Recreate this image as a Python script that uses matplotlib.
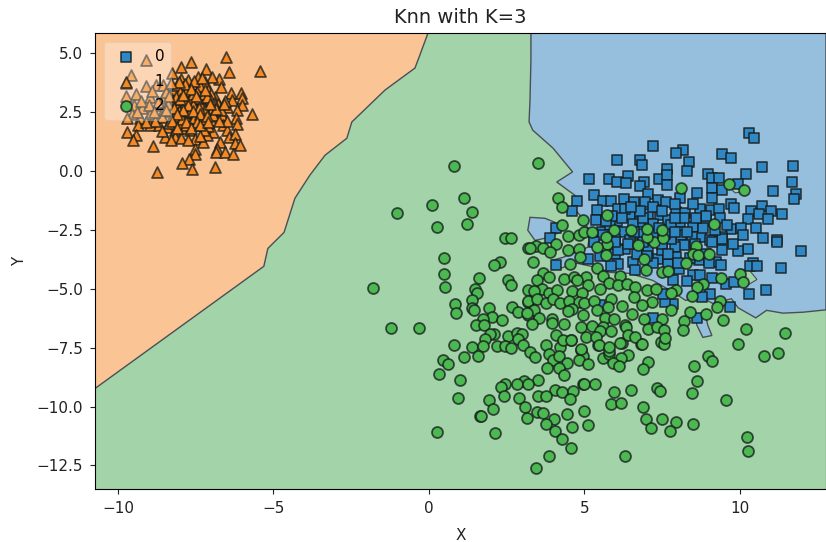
import numpy as np
import matplotlib
matplotlib.use('Agg')
import matplotlib.pyplot as plt

# decision boundaries
orange_edge = [(-0.03,5.87),(-0.29,4.94),(-0.45,4.38),(-1.41,3.45),(-2.48,2.09),(-2.64,1.4),(-3.34,0.68),
               (-3.83,-0.17),(-4.31,-1.15),(-4.66,-2.6),(-5.18,-3.28),(-5.31,-4.04),(-7.36,-6.0),(-10.74,-9.23)]
blue_edge = [(3.28,5.87),(3.28,4.72),(3.25,3.02),(3.22,2.09),(3.34,1.74),(3.99,0.98),(4.62,-0.03),(4.11,-0.46),
             (4.69,-1.02),(4.6,-1.49),(4.92,-1.96),(5.18,-2.6),(5.11,-3.23),(4.31,-3.66),(3.95,-3.79),(4.21,-4.13),
             (4.76,-3.91),(5.08,-4.0),(5.5,-4.13),(5.82,-4.3),(6.46,-4.34),(7.2,-4.64),(7.75,-5.06),(8.26,-5.49),
             (8.71,-5.32),(9.13,-5.62),(9.73,-5.42),(9.94,-5.8),(10.51,-6.23),(10.86,-5.91),(11.38,-6.03),
             (12.03,-5.99),(12.77,-5.89)]
blue_island1 = [(3.25,-1.96),(3.73,-2.0),(4.05,-2.17),(4.21,-2.6),(3.73,-2.85),(3.41,-2.94),(3.18,-2.51)]
blue_island2 = [(8.55,-6.13),(8.87,-6.0),(8.97,-6.55),(9.1,-6.98),(8.81,-7.06),(8.62,-6.55)]
green_patch1 = [(9.7,-0.75),(10.0,-0.68),(10.3,-0.85),(9.85,-0.92)]
green_patch2 = [(9.95,-4.15),(10.3,-4.2),(10.55,-4.6),(10.3,-4.8),(10.0,-4.7)]

class0 = [(7.21,1.06),(6.04,0.47),(6.78,0.47),(6.84,0.26),(5.14,-0.35),(5.8,-0.35),(6.41,-0.21),(6.04,-0.45),
          (6.33,-0.5),(6.91,-0.45),(6.78,-0.62),(7.4,-0.35),(7.66,0.11),(7.66,-0.17),(7.66,-0.6),(5.31,-1.02),
          (4.77,-1.26),(5.6,-1.26),(5.87,-1.26),(6.27,-1.2),(6.6,-1.31),(7.05,-0.98),(6.95,-1.31),(7.37,-1.23),
          (7.64,-1.31),(4.59,-1.69),(5.39,-1.66),(6.09,-1.59),(6.46,-1.91),(7.05,-1.8),(7.43,-1.87),(5.37,-2.06),
          (6.04,-2.13),(6.78,-2.16),(7.7,-2.09),(4.08,-2.4),(3.89,-2.82),(5.55,-2.58),(6.25,-2.58),(6.78,-2.65),
          (7.21,-2.72),(6.57,-2.23),(5.82,-2.3),(7.21,-2.23),
          (10.3,1.63),(10.46,1.42),(9.41,0.71),(9.7,0.57),(10.7,0.16),(11.71,0.21),(8.18,0.92),(7.93,0.77),
          (8.36,0.37),(8.29,0.0),(8.96,-0.1),(10.19,-0.1),(9.09,-0.27),(9.32,-0.31),(11.68,-0.45),(9.95,-0.53),
          (9.11,-0.71),(9.41,-0.81),(11.07,-0.85),(11.82,-0.95),(8.61,-0.92),(11.74,-1.2),(8.09,-1.12),(9.11,-1.12),
          (9.73,-1.38),(9.82,-1.56),(10.7,-1.46),(8.71,-1.59),(9.06,-1.66),(9.32,-1.6),(10.37,-1.69),(10.61,-1.8),
          (10.99,-1.7),(11.34,-1.83),(9.36,-1.97),(7.94,-1.73),(8.25,-1.77),(10.27,-2.04),(10.91,-2.04),(8.07,-2.16),
          (8.91,-2.13),(8.48,-2.37),(9.73,-2.44),(10.05,-2.4),(10.51,-2.41),(8.12,-2.72),(8.74,-2.8),(9.04,-2.91),
          (9.41,-2.8),(10.09,-2.72),(10.75,-2.82),(11.18,-2.91),(7.8,-2.3),
          (11.18,-3.01),(11.95,-3.39),(10.27,-3.29),(9.93,-3.39),(9.78,-3.08),(9.43,-2.87),(9.44,-3.33),(9.09,-3.01),
          (8.45,-2.8),(8.2,-3.15),(7.91,-3.22),(7.8,-2.87),(7.96,-3.65),(8.69,-3.79),(9.23,-3.86),(9.38,-4.0),
          (10.43,-3.9),(10.32,-4.04),(10.56,-4.04),(11.31,-4.1),(8.05,-4.14),(8.5,-4.43),(8.71,-4.4),(8.31,-4.67),
          (9.09,-4.52),(9.55,-4.78),(9.82,-4.71),(7.85,-4.64),(10.3,-5.2),(10.84,-5.06),(9.04,-5.2),(8.79,-5.35),
          (9.68,-5.77),(7.84,-5.63),(8.61,-6.23),
          (6.3,-3.29),(5.98,-3.5),(6.57,-3.86),(6.09,-3.93),(5.87,-4.04),(5.1,-3.71),(4.1,-4.0),(7.05,-3.36),
          (7.37,-3.71),(6.62,-4.21),(5.5,-5.7),(7.21,-6.23),(7.59,-5.56),(6.09,-3.36),(6.46,-2.94),(5.98,-2.86),
          (5.6,-2.72),(7.59,-2.65),(7.48,-3.36),(7.7,-3.93),(7.53,-5.2),(5.5,-3.6),(6.3,-1.6),(6.9,-3.0),(7.5,-3.1),
          (7.9,-2.6),(8.3,-2.6),(8.4,-3.7),(8.9,-3.5),(7.2,-3.9),(5.3,-3.0),(5.9,-1.9),(6.6,-2.6),(7.2,-1.5),
          (7.9,-1.4),(8.5,-1.4),(8.8,-2.4),(9.6,-2.3),(6.0,-3.0),(6.7,-3.5),
          (6.2,-2.0),(6.9,-2.0),(7.4,-2.4),(7.0,-3.6),(7.7,-3.5),(8.2,-2.0),(8.55,-3.1),(8.9,-1.9),(9.2,-2.5),
          (6.4,-3.1),(6.8,-1.7),(7.5,-1.7),(8.0,-3.9),(5.7,-2.1),(6.5,-1.5),(7.9,-2.0),(8.6,-2.0),(9.0,-3.9)]

class1 = [(-6.54,4.84),(-5.43,4.27),(-7.64,4.64),(-7.99,4.44),(-6.42,4.23),(-7.18,4.33),(-9.1,4.72),(-9.58,4.09),
          (-9.75,3.76),(-8.25,4.16),(-7.42,4.01),(-6.75,3.9),(-6.99,4.01),(-7.97,3.9),(-7.74,3.87),(-7.2,3.8),
          (-9.1,3.63),(-8.78,3.66),(-8.54,3.66),(-6.69,3.59),(-7.58,3.52),(-7.9,3.59),(-7.1,3.45),(-6.35,3.33),
          (-6.05,3.33),(-9.43,3.28),(-9.75,3.19),(-8.3,3.3),(-8.06,3.23),(-7.69,3.19),(-7.31,3.09),(-6.88,3.16),
          (-6.0,3.09),(-6.32,3.02),(-7.9,3.09),(-8.97,3.16),(-8.54,3.09),(-7.58,2.95),(-6.77,2.85),(-6.02,2.81),
          (-9.47,2.81),(-9.24,2.67),(-8.7,2.81),(-8.17,2.81),(-7.1,2.74),(-6.5,2.71),(-7.79,2.67),(-6.18,2.6),
          (-5.7,2.45),(-7.22,2.38),(-9.54,2.45),(-8.97,2.45),(-8.4,2.34),(-7.97,2.45),(-7.52,2.45),(-6.67,2.38),
          (-9.72,2.24),(-9.29,2.24),(-7.0,2.17),(-6.22,2.28),(-8.17,2.17),(-7.74,2.17),(-9.35,1.96),(-8.97,1.96),
          (-8.68,1.96),(-8.44,1.89),(-7.93,1.82),(-7.42,1.96),(-6.61,1.96),(-6.17,1.99),(-9.72,1.67),(-8.17,1.74),
          (-7.69,1.74),(-6.94,1.67),(-6.5,1.74),(-9.43,1.53),(-8.49,1.46),(-7.15,1.53),(-6.43,1.46),(-6.24,1.57),
          (-8.17,1.46),(-7.97,1.43),(-7.52,1.35),(-9.51,1.32),(-8.3,1.32),(-7.26,1.25),(-6.72,1.25),(-6.24,1.21),
          (-6.08,1.13),(-7.74,1.32),(-8.86,1.08),(-7.52,0.96),(-6.83,0.96),(-6.85,0.82),(-6.56,0.82),(-7.52,0.72),
          (-6.31,0.72),(-7.71,0.5),(-7.95,0.33),(-6.88,0.18),(-7.61,0.11),(-8.76,-0.03),
          (-7.6,3.7),(-7.35,3.6),(-7.8,3.4),(-8.2,3.45),(-7.45,3.35),(-7.0,3.3),(-7.7,3.05),(-8.1,2.9),(-7.35,2.85),
          (-7.95,2.75),(-8.3,2.6),(-7.5,2.65),(-7.0,2.55),(-6.7,2.6),(-8.55,2.55),(-7.85,2.35),(-7.3,2.2),(-8.6,2.3),
          (-8.0,2.0),(-7.55,2.0),(-7.1,1.9),(-8.8,2.15),(-6.9,2.9),(-8.7,2.95),(-6.55,3.0),(-8.45,3.35),(-8.1,3.65),
          (-7.85,3.7),(-9.0,2.8),(-9.1,2.1),(-6.5,2.15),
          (-8.0,3.35),(-7.6,3.3),(-7.25,3.3),(-8.25,3.05),(-7.45,3.1),(-7.05,3.05),(-7.85,2.9),(-7.6,2.8),(-7.2,2.6),
          (-8.05,2.55),(-7.7,2.5),(-8.4,2.85),(-8.2,2.35),(-7.95,2.2),(-7.55,2.25),(-8.35,2.05),(-7.8,1.95),(-7.25,1.75),
          (-8.05,3.8),(-7.55,3.85),(-7.3,3.95),(-8.15,3.15),(-6.95,2.4),(-6.75,2.15),(-7.35,1.5),(-8.6,1.7),(-8.85,2.5),
          (-9.25,3.0),(-9.4,2.5),(-8.9,3.4),
          (-8.3,3.75),(-7.65,3.5),(-7.5,3.2),(-7.15,3.15),(-8.35,3.2),(-8.0,3.05),(-7.75,2.8),(-7.4,2.7),(-8.2,2.7),
          (-7.9,2.6),(-7.6,2.55),(-7.35,2.45),(-8.45,2.6),(-8.1,2.45),(-7.8,2.1),(-7.45,2.1),(-8.25,2.15),(-7.65,1.85),
          (-7.35,1.95),(-8.1,1.85),(-7.15,2.35),(-6.85,2.65),(-7.05,2.85),(-7.2,3.45),(-7.9,3.25),(-6.6,2.85),(-7.1,2.1)]

class2 = [(0.8,0.2),(1.14,-1.12),(0.11,-1.42),(1.38,-1.72),(-1.04,-1.77),(0.26,-2.38),(1.21,-2.23),(2.46,-2.84),
          (2.63,-2.84),(0.49,-3.7),(2.29,-3.84),(2.09,-4.0),(0.49,-4.36),(1.6,-4.55),(2.55,-4.61),(2.64,-4.82),
          (0.52,-4.91),(-1.8,-4.96),(1.48,-5.02),(1.53,-5.18),(1.4,-5.48),(0.84,-5.66),(2.66,-5.76),(1.37,-5.83),
          (1.45,-5.89),(1.94,-5.82),(2.86,-5.97),(0.87,-6.04),(2.02,-6.2),(1.75,-6.27),(2.36,-6.34),(1.5,-6.52),
          (1.77,-6.52),(-1.23,-6.68),(-0.31,-6.64),(2.09,-6.92),(1.96,-6.92),(2.55,-6.98),(2.82,-6.88),(3.0,-6.92),
          (2.88,-7.13),(1.79,-7.13),(0.8,-7.39),(1.37,-7.48),(1.73,-7.43),(2.2,-7.43),(2.44,-7.43),(3.03,-7.4),
          (3.19,-6.13),(3.19,-5.04),(3.19,-3.28),(3.18,-5.56),
          (2.64,-7.49),(3.77,-7.4),(4.23,-7.45),(4.57,-7.19),(0.44,-8.04),(0.62,-8.17),(1.14,-7.9),(1.57,-7.84),
          (3.25,-7.7),(3.41,-7.9),(3.86,-7.76),(3.98,-8.04),(4.19,-7.87),(4.89,-7.59),(4.96,-7.83),(4.83,-8.01),
          (5.1,-8.18),(5.44,-7.4),(5.6,-7.93),(5.78,-7.76),(4.43,-8.16),(4.19,-8.35),(3.8,-8.35),(0.33,-8.61),
          (4.35,-8.65),(0.99,-8.86),(3.51,-8.89),(3.05,-8.92),(2.82,-9.03),(2.44,-9.03),(2.32,-9.18),(3.17,-9.03),
          (4.07,-9.28),(4.27,-9.39),(4.62,-9.32),(4.94,-9.06),(5.0,-9.06),(5.35,-9.06),(0.94,-9.62),(2.4,-9.57),
          (2.89,-9.63),(3.51,-9.56),(3.78,-9.57),(4.54,-9.67),(1.94,-9.71),(2.07,-10.09),(3.09,-10.03),(3.46,-10.21),
          (3.68,-10.27),(5.0,-10.17),(4.43,-10.33),(1.64,-10.41),(1.68,-10.38),(3.16,-10.48),(4.01,-10.54),(3.76,-10.72),
          (5.11,-10.78),(4.61,-10.88),(4.07,-11.03),(0.26,-11.09),(2.13,-11.13),(4.27,-11.39),(4.58,-11.74),(3.85,-12.1),
          (3.43,-12.6),
          (9.93,-7.32),(10.76,-7.84),(11.22,-7.74),(8.98,-7.86),(9.09,-8.06),(8.51,-8.26),(7.06,-8.1),(6.89,-8.41),
          (6.83,-7.36),(7.46,-7.26),(7.57,-7.32),(8.62,-8.92),(8.47,-9.42),(9.54,-9.73),(6.49,-9.28),(5.95,-9.36),
          (7.34,-9.22),(7.43,-9.32),(5.86,-9.87),(6.18,-9.83),(6.9,-10.03),(6.98,-10.53),(7.51,-10.54),(7.94,-10.64),
          (8.48,-10.74),(7.14,-10.89),(7.75,-11.03),(10.22,-11.29),(10.26,-11.9),(6.29,-12.1),(5.79,-7.62),(6.2,-7.31),
          (6.39,-7.79),(6.18,-7.93),(5.91,-8.16),(6.12,-8.27),
          (4.46,-2.74),(4.82,-2.71),(5.0,-2.58),(5.26,-2.58),(5.73,-3.08),(5.41,-3.22),(6.71,-3.15),(7.25,-3.01),
          (7.53,-2.82),(7.0,-2.8),(4.08,-3.08),(3.44,-3.18),(3.25,-3.26),(3.66,-3.26),(3.89,-3.45),(4.46,-3.36),
          (4.82,-3.29),(4.86,-3.65),(3.35,-3.84),(4.53,-3.96),(5.69,-3.57),(6.92,-3.71),(6.98,-4.21),(5.39,-4.1),
          (3.68,-4.33),(3.86,-4.5),(4.34,-4.58),(4.67,-4.5),(5.04,-4.5),(5.6,-4.45),(6.16,-4.45),(5.8,-4.75),
          (6.09,-4.85),(6.36,-4.78),(6.62,-4.92),(7.0,-5.03),(7.3,-5.02),(7.48,-4.28),(7.7,-4.24),(3.46,-4.64),
          (4.75,-4.64),(5.12,-4.85),(5.5,-5.02),(3.64,-4.99),(3.38,-5.09),(3.86,-5.16),(4.13,-5.06),(4.59,-5.11),
          (4.93,-5.16),(5.87,-5.42),(6.6,-5.35),(7.18,-5.56),(3.17,-5.52),(3.46,-5.45),(3.76,-5.6),(4.0,-5.42),
          (4.23,-5.6),(4.5,-5.52),(4.82,-5.56),(5.0,-5.59),(5.31,-5.52),(5.77,-5.77),(6.2,-5.74),(6.84,-5.7),
          (3.39,-5.91),(4.61,-5.84),(5.39,-5.91),(6.52,-6.06),(3.14,-6.03),(4.48,-5.93),(3.54,-6.23),(3.96,-6.27),
          (4.96,-6.09),(5.66,-6.23),(5.96,-6.27),(6.91,-6.27),(7.51,-6.27),(3.3,-6.48),(3.96,-6.46),(4.35,-6.48),
          (4.89,-6.63),(5.26,-6.58),(5.6,-6.63),(6.3,-6.55),(7.05,-6.69),(7.32,-6.6),(7.57,-6.74),(5.5,-6.77),
          (5.87,-6.77),(6.33,-6.63),(4.1,-6.94),(6.41,-6.94),(5.04,-7.05),(4.32,-7.15),(4.57,-7.15),(5.36,-7.05),
          (6.62,-7.05),(7.59,-7.08),(6.84,-7.33),(6.14,-7.31),(5.47,-7.4),(4.89,-7.55),(5.8,-7.48),
          (3.51,0.35),(4.16,-1.16),(4.29,-1.52),(4.96,-2.06),(5.73,-1.87),(4.29,-2.3),(5.96,-2.51),(6.49,-2.48),
          (7.02,-2.44),(7.48,-2.48),(5.69,-2.8),(8.12,-0.72),(9.66,-0.55),(10.14,-0.78),(9.16,-2.23),
          (8.59,-3.19),(8.5,-3.5),(8.66,-3.57),(9.01,-3.5),(8.26,-3.9),(9.38,-4.52),(10.02,-4.35),(10.09,-4.71),
          (8.82,-4.78),(8.63,-4.92),(7.96,-5.06),(7.8,-5.16),(8.45,-5.32),(9.36,-5.52),(9.28,-5.77),(8.39,-5.99),
          (8.91,-6.06),(7.8,-5.91),(8.2,-6.37),(8.16,-6.74),(9.46,-6.31),(10.19,-6.69),(11.45,-6.88)]

xlim = (-10.74, 12.77)
ylim = (-13.5, 5.87)
xticks = [-10, -5, 0, 5, 10]
yticks = [-12.5, -10.0, -7.5, -5.0, -2.5, 0.0, 2.5, 5.0]

fig = plt.figure(figsize=(8.26, 5.42), dpi=100)
ax = fig.add_axes([95/826, 53/542, 731/826, 456/542], facecolor='#a3d3a8')

# regions, solid colours so they do not stack up
edge = '#4a4f55'
blue_fc = '#95bfdc'
green_fc = '#a3d3a8'
orange_poly = np.array(orange_edge + [(xlim[0], ylim[1])])
blue_poly = np.array(blue_edge + [(xlim[1], ylim[1])])
ax.fill(orange_poly[:, 0], orange_poly[:, 1], fc='#fbc494', ec=edge, lw=1.0)
ax.fill(blue_poly[:, 0], blue_poly[:, 1], fc=blue_fc, ec=edge, lw=1.0)
for isl in (blue_island1, blue_island2):
    isl = np.array(isl)
    ax.fill(isl[:, 0], isl[:, 1], fc=blue_fc, ec=edge, lw=1.0)
for p in (green_patch1, green_patch2):
    p = np.array(p)
    ax.fill(p[:, 0], p[:, 1], fc=green_fc, ec=edge, lw=0.8)

c0 = np.array(class0)
c1 = np.array(class1)
c2 = np.array(class2)
ec = (0.08, 0.1, 0.1, 0.75)
ax.scatter(c0[:, 0], c0[:, 1], marker='s', s=62, c='#2f87c4', edgecolors=ec, linewidths=1.3, label='0')
ax.scatter(c1[:, 0], c1[:, 1], marker='^', s=62, c='#f58a25', edgecolors=ec, linewidths=1.3, label='1')
ax.scatter(c2[:, 0], c2[:, 1], marker='o', s=62, c='#4cb852', edgecolors=ec, linewidths=1.3, label='2')

ax.set_xlim(xlim)
ax.set_ylim(ylim)
ax.set_xticks(xticks)
ax.set_yticks(yticks)
ax.tick_params(labelsize=11, colors='#222222', pad=5)
ax.set_xlabel('X', fontsize=11, labelpad=9, color='#222222')
ax.set_ylabel('Y', fontsize=11, labelpad=7, color='#222222')
ax.set_title('Knn with K=3', fontsize=14, color='#222222', pad=7)
ax.legend(loc='upper left', framealpha=0.3, fontsize=11, scatterpoints=1,
          labelspacing=0.62, handletextpad=0.85, borderpad=0.45, borderaxespad=0.6)

fig.savefig('out.png', dpi=100)
